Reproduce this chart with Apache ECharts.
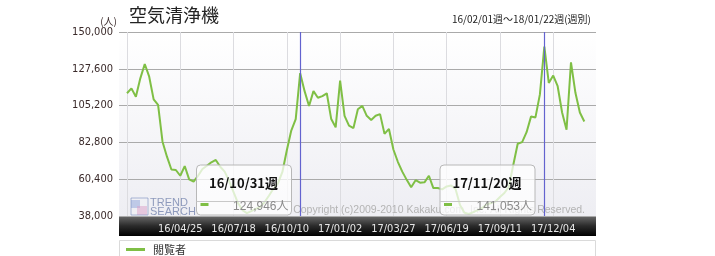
<!DOCTYPE html>
<html><head><meta charset="utf-8">
<script src="https://cdn.jsdelivr.net/npm/echarts@6/dist/echarts.min.js"></script>
<style>html,body{margin:0;padding:0;background:#fff}#c{width:715px;height:256px}</style>
</head><body><div id="c"></div>
<script>
// ---- data ----
const startWeek = '2016-02-01';
const weekCount = 104;
const viewers = [
  112700,115700,110600,121800,130500,122800,109000,105600,83200,74100,
  66300,66000,62500,68400,60300,58900,62500,66600,68600,70700,
  72100,68000,65000,59300,52600,45900,41600,39800,41000,42300,
  43500,46500,50500,54700,57800,64800,78000,90000,97000,124946,
  114000,105000,114000,110000,111000,112700,97000,92000,120400,99000,
  93000,91500,103000,105000,99000,96500,99000,100000,88000,91000,
  78500,71000,65000,60000,55500,59800,58300,58500,62500,55000,
  55000,54200,56000,56600,54400,44700,40000,39200,40400,41600,
  42900,45000,45900,46800,49600,52000,55700,69000,82000,83000,
  89000,98500,98000,112000,141053,119000,123500,117000,101000,90500,
  131500,113000,101000,95500
];
const tickLabels = ['16/04/25','16/07/18','16/10/10','17/01/02','17/03/27','17/06/19','17/09/11','17/12/04'];
const markedWeeks = ['16/10/31','17/11/20'];
const yTicks = [38000,60400,82800,105200,127600,150000];
const seriesName = '閲覧者';
const titleText = '空気清浄機';
const subText = '16/02/01週～18/01/22週(週別)';

// categories (weekly dates)
const categories = [];
{
  const d0 = new Date(startWeek + 'T00:00:00Z');
  for (let i = 0; i < weekCount; i++) {
    const d = new Date(d0.getTime() + i * 7 * 86400000);
    const s = String(d.getUTCFullYear()).slice(2) + '/' +
      String(d.getUTCMonth() + 1).padStart(2, '0') + '/' +
      String(d.getUTCDate()).padStart(2, '0');
    categories.push(s);
  }
}
const tickSet = new Set(tickLabels);
const gridLineIdx = new Set([0]);
tickLabels.forEach(t => gridLineIdx.add(categories.indexOf(t)));

const fmt = v => v.toLocaleString('en-US');
const narrow = "'Liberation Sans Narrow','DejaVu Sans Condensed','Liberation Sans',sans-serif";

function tipBox(x, week) {
  const idx = categories.indexOf(week);
  const val = viewers[idx];
  const Z = 100;
  return {
    type: 'group', x: x, y: 165, z: Z,
    children: [
      {type: 'rect', z: Z, shape: {x: 0, y: 0, width: 95, height: 50, r: 4},
       style: {fill: 'rgba(255,255,255,0.75)', stroke: '#b8b8b8', lineWidth: 1}},
      {type: 'line', z: Z, shape: {x1: 0, y1: 36.5, x2: 95, y2: 36.5}, style: {stroke: '#c8c8c8', lineWidth: 1}},
      {type: 'text', z: Z, x: 47, y: 18, style: {text: week + '週', fill: '#111', font: "bold 13px 'Noto Sans CJK JP',sans-serif", textAlign: 'center', textVerticalAlign: 'middle'}},
      {type: 'rect', z: Z, shape: {x: 4, y: 38, width: 8, height: 3}, style: {fill: '#7fbf45'}},
      {type: 'text', z: Z, x: 92, y: 42, style: {text: fmt(val) + '人', fill: '#8a8a8a', font: "12px 'Liberation Sans','Noto Sans CJK JP',sans-serif", textAlign: 'right', textVerticalAlign: 'middle'}}
    ]
  };
}

const chart = echarts.init(document.getElementById('c'), null, {renderer: 'canvas'});
chart.setOption({
  backgroundColor: '#fff',
  animation: false,
  title: [
    {text: titleText, left: 124, top: 1, textStyle: {fontSize: 18, fontWeight: 'normal', color: '#222', fontFamily: "'Noto Sans CJK JP',sans-serif"}},
    {text: subText, right: 119, top: 9, textStyle: {fontSize: 10, fontWeight: 'normal', color: '#222', fontFamily: "'Noto Sans CJK JP',sans-serif"}}
  ],
  grid: [
    {left: 119, top: 32, width: 477, height: 184, show: true, borderWidth: 0,
     backgroundColor: new echarts.graphic.LinearGradient(0, 0, 0, 1, [{offset: 0, color: '#ffffff'}, {offset: 1, color: '#eeeef3'}])},
    {left: 127, top: 32, width: 457.3, height: 184}
  ],
  xAxis: [
    {gridIndex: 0, type: 'value', min: 0, max: 1, show: false},
    {gridIndex: 1, type: 'category', data: categories, boundaryGap: false,
     axisLine: {show: false}, axisTick: {show: false},
     axisLabel: {interval: (i, v) => tickSet.has(v), color: '#e6e6e6', fontSize: 11, margin: 8, fontFamily: narrow},
     splitLine: {show: true, interval: (i) => gridLineIdx.has(i), lineStyle: {color: '#dcdce0', width: 1}}}
  ],
  yAxis: [
    {gridIndex: 0, type: 'value', min: yTicks[0], max: yTicks[yTicks.length - 1], interval: yTicks[1] - yTicks[0],
     axisLine: {show: false}, axisTick: {show: false},
     axisLabel: {color: '#3a2a2a', fontSize: 11, margin: 6, fontFamily: narrow, formatter: v => fmt(v)},
     splitLine: {show: true, lineStyle: {color: '#aaaaaa', width: 1}}},
    {gridIndex: 1, type: 'value', min: yTicks[0], max: yTicks[yTicks.length - 1], show: false}
  ],
  legend: {
    left: 121, top: 239, itemWidth: 19, itemHeight: 3, icon: 'rect',
    data: [seriesName], selectedMode: false,
    textStyle: {fontSize: 11, color: '#333', fontFamily: "'Noto Sans CJK JP',sans-serif", padding: [0, 0, 0, 3]}
  },
  series: [{
    name: seriesName, type: 'line', xAxisIndex: 1, yAxisIndex: 1, data: viewers,
    showSymbol: false, symbol: 'none', lineStyle: {color: '#7fbf45', width: 2}, itemStyle: {color: '#7fbf45'}, z: 3,
    markLine: {silent: true, symbol: 'none', label: {show: false},
      lineStyle: {color: '#6363cf', width: 1.2, type: 'solid'},
      data: markedWeeks.map(w => ({xAxis: w}))}
  }],
  graphic: [
    {type: 'rect', z: -1, shape: {x: 119, y: 216, width: 477, height: 20},
     style: {fill: new echarts.graphic.LinearGradient(0, 0, 0, 1, [{offset: 0, color: '#6a6a6a'}, {offset: 0.5, color: '#2a2a2a'}, {offset: 1, color: '#000'}])}},
    {type: 'rect', z: -1, shape: {x: 119.5, y: 240.5, width: 476, height: 17}, style: {fill: '#fff', stroke: '#dadada', lineWidth: 1}},
    {type: 'text', x: 117, y: 21, z: 5, style: {text: '(人)', fill: '#3a2a2a', font: "10px 'Noto Sans CJK JP',sans-serif", textAlign: 'right', textVerticalAlign: 'middle'}},
    // watermark logo
    {type: 'group', x: 131, y: 198, z: 1, children: [
      {type: 'rect', z: 1, shape: {x: 0, y: 2, width: 9, height: 8}, style: {fill: 'rgba(150,170,220,0.55)'}},
      {type: 'rect', z: 1, shape: {x: 6, y: 8, width: 10, height: 9}, style: {fill: 'rgba(220,160,200,0.5)'}},
      {type: 'rect', z: 1, shape: {x: 0, y: 0, width: 17, height: 17}, style: {fill: 'none', stroke: 'rgba(120,140,190,0.6)', lineWidth: 1}},
      {type: 'text', z: 1, x: 19, y: 5, style: {text: 'TREND', fill: 'rgba(110,125,170,0.75)', font: "11px 'Liberation Sans',sans-serif", textVerticalAlign: 'middle'}},
      {type: 'text', z: 1, x: 19, y: 13.5, style: {text: 'SEARCH', fill: 'rgba(110,125,170,0.75)', font: "11px 'Liberation Sans',sans-serif", textVerticalAlign: 'middle'}}
    ]},
    {type: 'text', x: 585, y: 210, z: 1, style: {text: 'Copyright (c)2009-2010 Kakaku.com, Inc. All Rights Reserved.', fill: '#b4b4b4', font: "10.5px 'Liberation Sans',sans-serif", textAlign: 'right', textVerticalAlign: 'middle'}},
    tipBox(196.5, markedWeeks[0]),
    tipBox(440, markedWeeks[1])
  ]
});
</script></body></html>
